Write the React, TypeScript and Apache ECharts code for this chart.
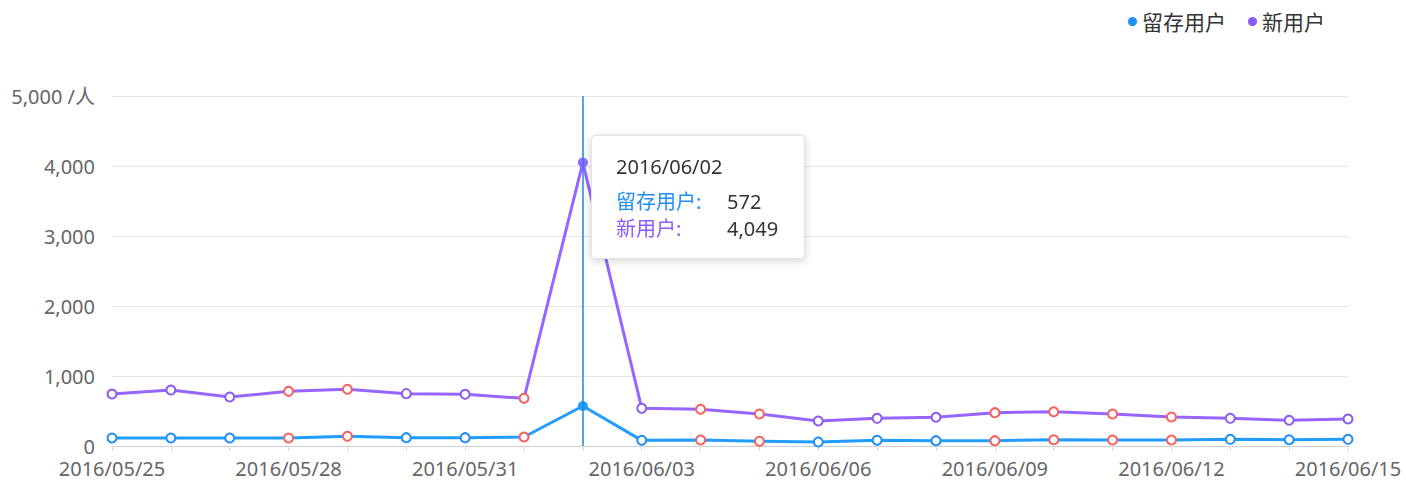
import React, { useEffect, useRef } from "react";
import * as echarts from "echarts";

const dates = [
  "2016/05/25", "2016/05/26", "2016/05/27", "2016/05/28", "2016/05/29", "2016/05/30",
  "2016/05/31", "2016/06/01", "2016/06/02", "2016/06/03", "2016/06/04", "2016/06/05",
  "2016/06/06", "2016/06/07", "2016/06/08", "2016/06/09", "2016/06/10", "2016/06/11",
  "2016/06/12", "2016/06/13", "2016/06/14", "2016/06/15",
];
const retained = [114, 114, 114, 114, 138, 119, 119, 129, 572, 81, 86, 67, 57, 81, 76, 76, 90, 86, 86, 95, 90, 95];
const newUsers = [743, 800, 700, 781, 810, 748, 738, 681, 4049, 538, 524, 457, 357, 395, 410, 476, 490, 457, 414, 395, 367, 386];
const holidayIdx = [3, 4, 7, 10, 11, 15, 16, 17, 18];
const activeIdx = 8;
const seriesNames = ["留存用户", "新用户"];
const colors = ["#1f8ff5", "#8a5cf5"];
const holidayColor = "#f5625d";
const FONT = '"Noto Sans", "Noto Sans CJK SC", sans-serif';

function buildData(values: number[]) {
  return values.map((v, i) => {
    if (i === activeIdx) return { value: v, symbol: "circle", symbolSize: 10 };
    if (holidayIdx.includes(i)) return { value: v, itemStyle: { color: holidayColor } };
    return v;
  });
}

export default function App() {
  const ref = useRef<HTMLDivElement>(null);
  useEffect(() => {
    document.body.style.margin = "0";
    if (!ref.current) return;
    const chart = echarts.init(ref.current, undefined, { renderer: "svg" });
    chart.setOption({
      animation: false,
      textStyle: { fontFamily: FONT },
      color: colors,
      legend: {
        data: seriesNames.map((n) => ({ name: n, icon: "circle" })),
        right: 76,
        top: 6,
        itemWidth: 9,
        itemHeight: 9,
        itemGap: 22,
        textStyle: { fontSize: 21, color: "#333", fontFamily: FONT },
      },
      grid: { left: 112, right: 58, top: 96, bottom: 34, containLabel: false },
      tooltip: {
        trigger: "axis",
        triggerOn: "none",
        alwaysShowContent: true,
        transitionDuration: 0,
        position: [591, 135],
        backgroundColor: "#fff",
        borderColor: "#e4e4e4",
        borderWidth: 1,
        padding: [18, 24, 16, 24],
        extraCssText: "width:214px;box-sizing:border-box;border-radius:4px;box-shadow:0 2px 8px rgba(0,0,0,0.18);",
        axisPointer: { type: "line", lineStyle: { color: "#1a8ae0", width: 1.5, type: "solid" } },
        formatter: (params: any) => {
          const p = Array.isArray(params) ? params : [params];
          let s = `<div style="font-family:${FONT.replace(/"/g, "'")};">`;
          s += `<div style="font-size:20px;color:#333;line-height:26px;margin-bottom:8px;">${p[0].axisValue}</div>`;
          p.forEach((it: any) => {
            const v = typeof it.value === "number" ? it.value : Number(it.value);
            s += `<div style="display:flex;line-height:27px;font-size:20px;"><span style="color:${colors[it.seriesIndex]};width:111px;display:inline-block;">${it.seriesName}:</span><span style="color:#333;">${v.toLocaleString("en-US")}</span></div>`;
          });
          return s + "</div>";
        },
      },
      xAxis: {
        type: "category",
        data: dates,
        boundaryGap: false,
        axisLine: { lineStyle: { color: "#cfcfcf", width: 1 } },
        axisTick: { show: true, interval: 0, length: 5, lineStyle: { color: "#dcdcdc" } },
        axisLabel: { interval: 2, color: "#666", fontSize: 20, lineHeight: 20, margin: 12, fontFamily: FONT },
      },
      yAxis: {
        type: "value",
        min: 0,
        max: 5000,
        interval: 1000,
        axisLine: { show: false },
        axisTick: { show: false },
        splitLine: { lineStyle: { color: "#e6e6e6", width: 1 } },
        axisLabel: {
          color: "#666",
          fontSize: 20,
          lineHeight: 17,
          padding: [0, 0, 4, 0],
          margin: 17,
          fontFamily: FONT,
          formatter: (v: number) => (v === 5000 ? "5,000 /人" : v.toLocaleString("en-US")),
        },
      },
      series: [
        {
          name: seriesNames[0],
          type: "line",
          data: buildData(retained),
          symbol: "emptyCircle",
          symbolSize: 9,
          lineStyle: { width: 3, color: colors[0] },
          itemStyle: { color: colors[0], borderWidth: 2.5 },
          emphasis: { scale: false },
          z: 3,
        },
        {
          name: seriesNames[1],
          type: "line",
          data: buildData(newUsers),
          symbol: "emptyCircle",
          symbolSize: 9,
          lineStyle: { width: 3, color: colors[1] },
          itemStyle: { color: colors[1], borderWidth: 2.5 },
          emphasis: { scale: false },
          z: 2,
        },
      ],
    });
    chart.dispatchAction({ type: "showTip", seriesIndex: 0, dataIndex: activeIdx });
    return () => chart.dispose();
  }, []);
  return <div ref={ref} style={{ width: 1406, height: 480 }} />;
}
